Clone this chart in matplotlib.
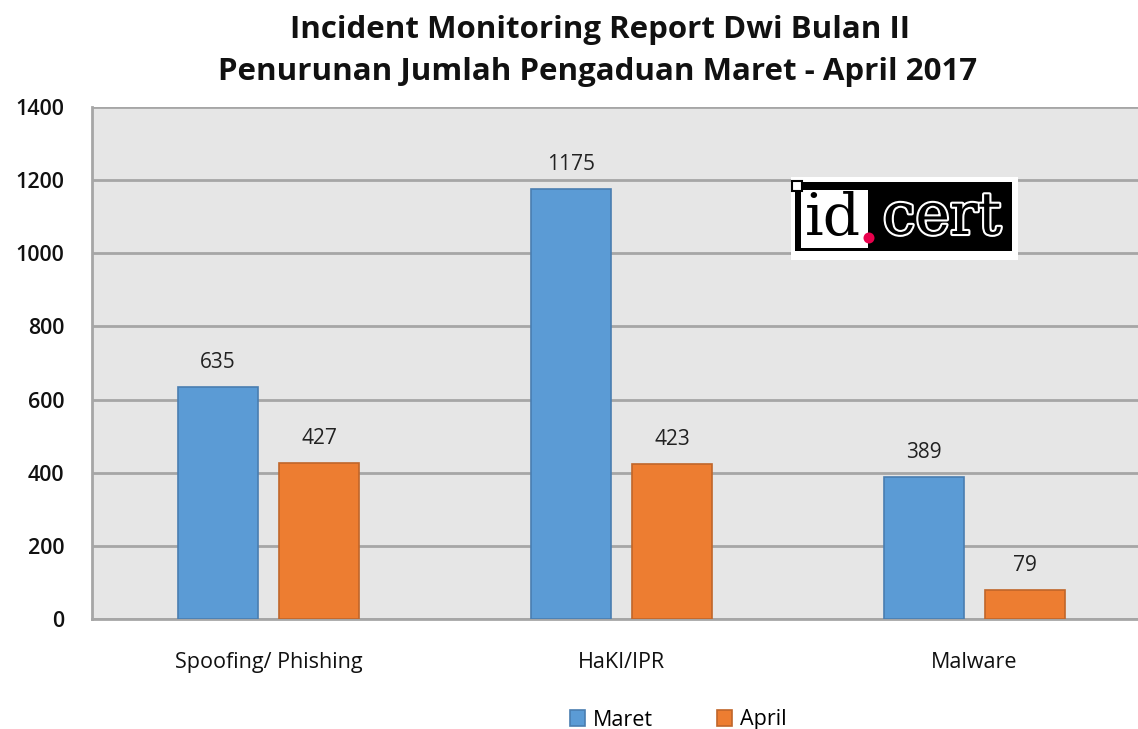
import matplotlib
matplotlib.use("Agg")
import matplotlib.pyplot as plt
import matplotlib.patches as mpatches
import matplotlib.patheffects as pe
import numpy as np

categories = ["Spoofing/ Phishing", "HaKI/IPR", "Malware"]
maret = [635, 1175, 389]
april = [427, 423, 79]
series_names = ["Maret", "April"]
title_lines = ["Incident Monitoring Report Dwi Bulan II",
               "Penurunan Jumlah Pengaduan Maret - April 2017"]

plt.rcParams['font.family'] = ['Open Sans', 'DejaVu Sans']

W, H = 1138, 729
fig = plt.figure(figsize=(W / 100, H / 100), dpi=100)
fig.patch.set_facecolor("white")

def fx(px):
    return px / W

def fy(py):
    return 1 - py / H

ax = fig.add_axes([fx(92), fy(619), fx(1151) - fx(92), fy(107) - fy(619)])
ax.set_facecolor("#E6E6E6")

x = np.arange(len(categories))
w = 0.227
off = 0.143
blue = "#5B9BD5"
orange = "#ED7D31"
b1 = ax.bar(x - off, maret, w, color=blue, edgecolor="#4A7EB0", linewidth=1.2,
            label=series_names[0], zorder=3)
b2 = ax.bar(x + off, april, w, color=orange, edgecolor="#C0662A", linewidth=1.2,
            label=series_names[1], zorder=3)
for bars in (b1, b2):
    ax.bar_label(bars, padding=10, fontsize=15, color="#222222")

ax.set_xlim(-0.5, 2.5)
ax.set_ylim(0, 1400)
ax.set_yticks(np.arange(0, 1401, 200))
ax.yaxis.grid(True, color="#A6A6A6", linewidth=2, zorder=0)
ax.set_axisbelow(True)
ax.set_xticks(x)
ax.set_xticklabels(categories, fontsize=15.5, color="#111111")
ax.tick_params(axis="x", length=0, pad=24)
ax.tick_params(axis="y", length=0, pad=20, labelsize=15.5, labelcolor="#111111")
for lab in ax.get_yticklabels():
    lab.set_fontweight("semibold")
for s in ("top", "right"):
    ax.spines[s].set_visible(False)
ax.spines["left"].set_color("#A6A6A6")
ax.spines["left"].set_linewidth(2)
ax.spines["bottom"].set_color("#A6A6A6")
ax.spines["bottom"].set_linewidth(2)

fig.text(fx(600), fy(30), title_lines[0], ha="center", va="center",
         fontsize=22.5, fontweight="bold", color="#111111")
fig.text(fx(598), fy(72), title_lines[1], ha="center", va="center",
         fontsize=22.5, fontweight="bold", color="#111111")

leg = fig.legend(handles=[b1, b2], labels=series_names, loc="center",
                 bbox_to_anchor=(fx(678), fy(720)), ncol=2, frameon=False,
                 fontsize=15.5, handlelength=0.7, handleheight=0.7,
                 columnspacing=3.0, handletextpad=0.35)

# id.cert logo
fig.patches.append(mpatches.Rectangle((fx(791), fy(260)), fx(1018) - fx(791), fy(177) - fy(260),
                                      transform=fig.transFigure, facecolor="white",
                                      edgecolor="none", zorder=5))
fig.patches.append(mpatches.Rectangle((fx(795), fy(251)), fx(1012) - fx(795), fy(182) - fy(251),
                                      transform=fig.transFigure, facecolor="black",
                                      edgecolor="none", zorder=6))
fig.patches.append(mpatches.Rectangle((fx(801), fy(248)), fx(868) - fx(801), fy(190) - fy(248),
                                      transform=fig.transFigure, facecolor="white",
                                      edgecolor="none", zorder=7))
fig.patches.append(mpatches.Rectangle((fx(792), fy(191)), fx(802) - fx(792), fy(181) - fy(191),
                                      transform=fig.transFigure, facecolor="white",
                                      edgecolor="black", linewidth=1.5, zorder=8))
fig.text(fx(833), fy(219), "id", ha="center", va="center", fontsize=42,
         family="DejaVu Serif", color="black", zorder=9)
fig.patches.append(mpatches.Ellipse((fx(869), fy(238)), 11 / W, 11 / H,
                                    transform=fig.transFigure, facecolor="#E8004C",
                                    edgecolor="none", zorder=9))
fig.text(fx(942), fy(218), "cert", ha="center", va="center", fontsize=42,
         family="DejaVu Serif", color="black", zorder=9,
         path_effects=[pe.withStroke(linewidth=3, foreground="white")])

fig.savefig("out.png", dpi=100, facecolor="white")
